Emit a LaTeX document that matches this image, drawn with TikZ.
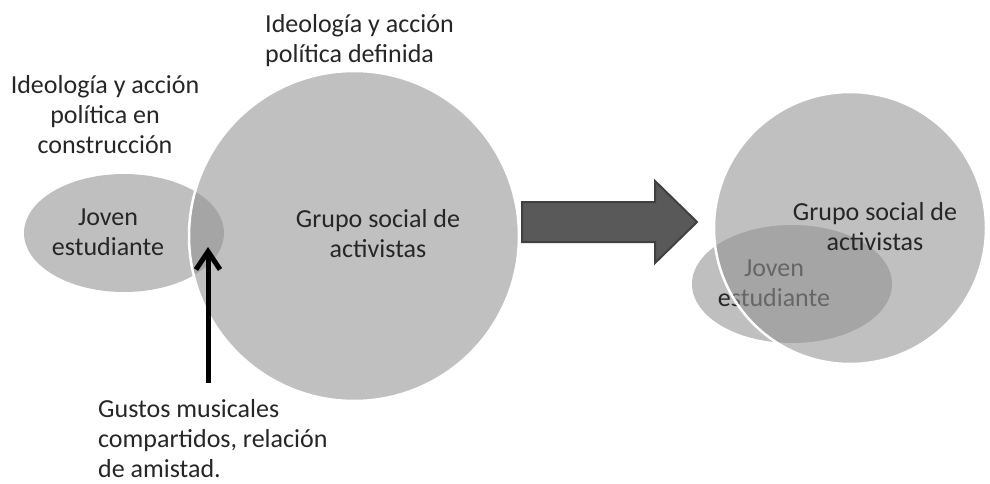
\documentclass[tikz,border=0pt]{standalone}
\usepackage{fontspec}
\setmainfont{Carlito}
\usetikzlibrary{shapes.geometric, arrows.meta}
\tikzset{>=stealth,
  joven/.style={ellipse, fill=black!25, minimum width=200pt, minimum height=118pt, inner sep=0pt},
  grupo/.style={circle, fill=black!42, fill opacity=0.59, draw=white, line width=2.5pt, inner sep=0pt},
  texto/.style={text=black!85, font=\fontsize{26}{30}\selectfont, inner sep=0pt},
  flecha/.style={line width=5pt, -{Straight Barb[length=18pt,width=24pt]}},
  bloque/.style={fill=black!65, draw=black!75, line width=2pt}}

\begin{document}
\begin{tikzpicture}[x=1pt, y=-1pt]
    \useasboundingbox (0,0) rectangle (990,484);
    % antes
    \node[joven] (joven1) at (124,233) {};
    \node[texto, align=center] (t-joven1) at (108,232) {Joven\\estudiante};
    \node[grupo, minimum size=330pt] (grupo1) at (354,236) {};
    \node[texto, align=center] (t-grupo1) at (378,234) {Grupo social de\\activistas};
    \node[texto, align=center, anchor=north] (construccion) at (105,75) {Ideología y acción\\política en\\construcción};
    \node[texto, align=left, anchor=north west] (definida) at (265,14) {Ideología y acción\\política definida};
    \node[texto, align=left, anchor=north west] (gustos) at (98,399) {Gustos musicales\\compartidos, relación\\de amistad.};
    \coordinate (cruce) at (208,247);
    \draw[flecha, shorten <=16pt] (gustos.north -| cruce) -- (cruce);
    % paso
    \draw[bloque] (522,202) -- (655,202) -- (655,181) -- (697,222) -- (655,263) -- (655,242) -- (522,242) -- cycle;
    % despues
    \node[joven] (joven2) at (792,284) {};
    \node[texto, align=center] (t-joven2) at (774,283) {Joven\\estudiante};
    \node[grupo, minimum size=272pt] (grupo2) at (850,228) {};
    \node[texto, align=center] (t-grupo2) at (875,227) {Grupo social de\\activistas};
\end{tikzpicture}
\end{document}
